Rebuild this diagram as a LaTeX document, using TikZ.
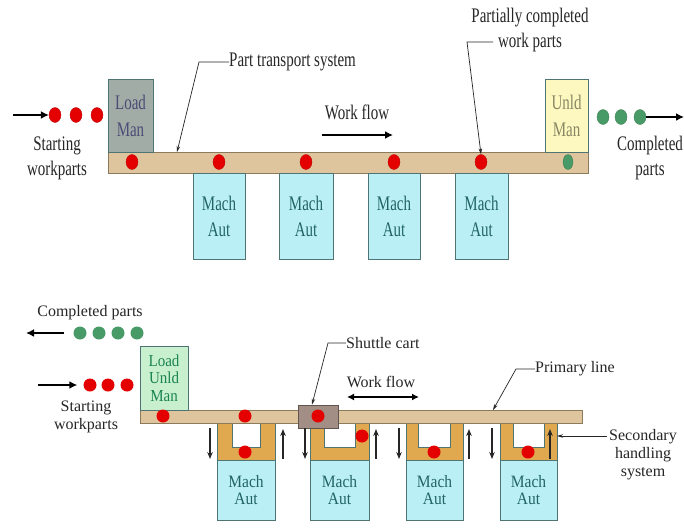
\documentclass[tikz,border=0pt]{standalone}
\usepackage{fontspec}
\setmainfont{Liberation Serif}
\usepackage{graphicx}
\usetikzlibrary{arrows.meta,shapes.geometric}
\definecolor{bartan}{HTML}{DEC59E}
\definecolor{bardraw}{HTML}{8C7A5C}
\definecolor{loadgray}{HTML}{A2ACA7}
\definecolor{unldyel}{HTML}{FCF8BF}
\definecolor{lumgreen}{HTML}{C8F0CE}
\definecolor{machcyan}{HTML}{BAF0F5}
\definecolor{machdraw}{HTML}{4E7474}
\definecolor{machtxt}{HTML}{226466}
\definecolor{secorange}{HTML}{E0A94F}
\definecolor{shuttlec}{HTML}{A28E84}
\definecolor{partred}{HTML}{E40000}
\definecolor{partgreen}{HTML}{489A66}
\definecolor{txt}{HTML}{262626}
\newcommand\vs[1]{\scalebox{1}[1.38]{#1}}
\newcommand\vb[1]{\scalebox{1}[1.12]{#1}}
\tikzset{
  boxbase/.style={draw=machdraw, line width=0.8pt, inner sep=0pt, align=center},
  machtop/.style={boxbase, fill=machcyan, text=machtxt, minimum height=86pt,
    font=\fontsize{15}{26}\selectfont},
  machbot/.style={boxbase, fill=machcyan, text=machtxt, minimum height=60pt,
    font=\fontsize{15.5}{16.5}\selectfont},
  barbox/.style={draw=bardraw, line width=0.8pt, fill=bartan, inner sep=0pt},
  rdot/.style={ellipse, fill=partred, draw=partred!80!black, line width=0.3pt, inner sep=0pt, minimum width=12pt, minimum height=15pt},
  gdot/.style={ellipse, fill=partgreen, draw=partgreen!80!black, line width=0.3pt, inner sep=0pt, minimum width=12pt, minimum height=15pt},
  rdotb/.style={circle, fill=partred, inner sep=0pt, minimum size=13pt},
  gdotb/.style={circle, fill=partgreen, inner sep=0pt, minimum size=13pt},
  ttext/.style={font=\fontsize{15}{25}\selectfont, text=txt, inner sep=0pt, align=center},
  btext/.style={font=\fontsize{16}{18}\selectfont, text=txt, inner sep=0pt, align=center},
  bigarrow/.style={draw=black, line width=2.3pt, -{Latex[length=8pt,width=8pt]}},
  dblarrow/.style={draw=black, line width=1.6pt, {Latex[length=7pt,width=7pt]}-{Latex[length=7pt,width=7pt]}},
  lead/.style={draw=black!85, line width=0.7pt, -{Stealth[length=6pt,width=3.5pt]}},
  varrow/.style={draw=black!85, line width=1.4pt, -{Stealth[length=7pt,width=5.5pt]}},
}
\begin{document}
\begin{tikzpicture}[x=1pt,y=-1pt]
\useasboundingbox (0,0) rectangle (684,527);
\clip (0,0) rectangle (684,527);
\fill[white] (0,0) rectangle (684,527);

% ================= TOP DIAGRAM =================
\node[barbox, minimum width=480pt, minimum height=21pt] (bar1) at (348,162.5) {};
\node[boxbase, fill=loadgray, text=black!60!blue!40!gray, minimum width=45pt, minimum height=73pt,
  font=\fontsize{15}{27}\selectfont] (load1) at (130.5,115.5) {\vs{Load}\\\vs{Man}};
\node[boxbase, fill=unldyel, text=black!55!yellow!60!gray, minimum width=43pt, minimum height=73pt,
  font=\fontsize{15}{27}\selectfont] (unld1) at (566.5,115.5) {\vs{Unld}\\\vs{Man}};
\node[machtop, minimum width=52pt] (mt1) at (219,216) {\vs{Mach}\\\vs{Aut}};
\node[machtop, minimum width=54pt] (mt2) at (306,216) {\vs{Mach}\\\vs{Aut}};
\node[machtop, minimum width=52pt] (mt3) at (394,216) {\vs{Mach}\\\vs{Aut}};
\node[machtop, minimum width=53pt] (mt4) at (481.5,216) {\vs{Mach}\\\vs{Aut}};

% parts on the conveyor
\node[rdot] (tr1) at (132,162) {};
\node[rdot] (tr2) at (219,162) {};
\node[rdot] (tr3) at (306,162) {};
\node[rdot] (tr4) at (394,162) {};
\node[rdot] (tr5) at (481,162) {};
\node[gdot, minimum width=10pt] (tg1) at (568,162) {};

% starting parts
\coordinate (tsa) at (13,115);
\node[rdot] (ts1) at (55,115) {};
\node[rdot] (ts2) at (76,115) {};
\node[rdot] (ts3) at (97,115) {};
\draw[bigarrow] (tsa) -- (ts1.west);
\node[ttext] (tstart) at (57,158) {\vs{Starting}\\\vs{workparts}};

% completed parts
\node[gdot] (tc1) at (603,117) {};
\node[gdot] (tc2) at (621,117) {};
\node[gdot] (tc3) at (640,117) {};
\coordinate (tce) at (684,117);
\draw[bigarrow] (tc3.east) -- (tce);
\node[ttext] (tdone) at (650,158) {\vs{Completed}\\\vs{parts}};

% labels
\node[ttext, anchor=west] (pts) at (229,62) {\vs{Part transport system}};
\coordinate (ptsend) at (177,152);
\draw[lead] (pts.west) -- ++(-30,0) -- (ptsend);

\node[ttext] (wf1) at (357,112) {\vs{Work flow}};
\coordinate (wf1a) at (322,135);
\coordinate (wf1b) at (393,135);
\draw[bigarrow] (wf1a) -- (wf1b);

\node[ttext] (pcw) at (530,30) {\vs{Partially completed}\\\vs{work parts}};
\coordinate (pcs) at (493,42);
\draw[lead] (pcs) -- ++(-26,0) -- (tr5.north);

% ================= BOTTOM DIAGRAM =================
% secondary handling systems
\foreach \i/\xl/\xr/\il/\ir in {1/217/275/232/260, 2/310/369/324/355, 3/406/463/418/450, 4/500/557/513/544}{
  \filldraw[draw=machdraw, line width=0.8pt, fill=secorange] (\xl,423) rectangle (\xr,460);
  \fill[white] (\il,423) rectangle (\ir,447);
  \draw[machdraw, line width=0.8pt] (\il,423) -- (\il,447) -- (\ir,447) -- (\ir,423);
}
\node[barbox, minimum width=442pt, minimum height=13pt] (bar2) at (361,416.5) {};
\node[boxbase, fill=lumgreen, text=machtxt!80!green, minimum width=48pt, minimum height=64pt,
  font=\fontsize{15}{17.5}\selectfont] (lum) at (164,378) {\vb{Load}\\\vb{Unld}\\\vb{Man}};
\node[boxbase, draw=shuttlec!60!black, fill=shuttlec, minimum width=40pt, minimum height=23pt] (shut) at (318,416.5) {};

\node[machbot, minimum width=58pt] (mb1) at (246,490) {\vb{Mach}\\\vb{Aut}};
\node[machbot, minimum width=59pt] (mb2) at (339.5,490) {\vb{Mach}\\\vb{Aut}};
\node[machbot, minimum width=57pt] (mb3) at (434.5,490) {\vb{Mach}\\\vb{Aut}};
\node[machbot, minimum width=57pt] (mb4) at (528.5,490) {\vb{Mach}\\\vb{Aut}};

% parts
\node[rdotb] (br1) at (163,416) {};
\node[rdotb] (br2) at (245,416) {};
\node[rdotb] (br3) at (318,416) {};
\node[rdotb] (br4) at (245,452) {};
\node[rdotb] (br5) at (362,436) {};
\node[rdotb] (br6) at (434,452) {};
\node[rdotb] (br7) at (528,452) {};

% vertical transfer arrows
\foreach \n/\dx/\ux in {1/210/283, 2/305/376, 3/399/469, 4/492/550}{
  \coordinate (dn\n a) at (\dx,428);
  \coordinate (dn\n b) at (\dx,459);
  \coordinate (up\n a) at (\ux,459);
  \coordinate (up\n b) at (\ux,429);
  \draw[varrow] (dn\n a) -- (dn\n b);
  \draw[varrow] (up\n a) -- (up\n b);
}

% completed parts
\node[btext] (bdone) at (90,313) {Completed parts};
\node[gdotb] (bg1) at (80,333) {};
\node[gdotb] (bg2) at (99,333) {};
\node[gdotb] (bg3) at (118,333) {};
\node[gdotb] (bg4) at (137,333) {};
\coordinate (bge) at (26,333);
\draw[bigarrow, line width=1.6pt] ([xshift=-9pt]bg1.west) -- (bge);

% starting parts
\coordinate (bsa) at (38,385);
\node[rdotb] (bs1) at (90,385) {};
\node[rdotb] (bs2) at (108,385) {};
\node[rdotb] (bs3) at (127,385) {};
\draw[bigarrow, line width=1.6pt] (bsa) -- ([xshift=-6pt]bs1.west);
\node[btext] (bstart) at (86,417) {Starting\\workparts};

% labels
\node[btext, anchor=west] (shl) at (346,343) {Shuttle cart};
\draw[lead] (shl.west) -- ++(-18,0) -- ([xshift=-6pt]shut.north);

\node[btext] (wf2) at (381,382) {Work flow};
\coordinate (wf2a) at (347,397);
\coordinate (wf2b) at (419,397);
\draw[dblarrow] (wf2a) -- (wf2b);

\node[btext, anchor=west] (pl) at (535,369) {Primary line};
\coordinate (plend) at (493,410);
\draw[lead] (pl.west) -- ++(-19,0) -- (plend);

\node[btext] (shs) at (643,455) {Secondary\\handling\\system};
\coordinate (shsstart) at (607,436);
\coordinate (shsend) at (557,436);
\draw[lead] (shsstart) -- (shsend);
\end{tikzpicture}
\end{document}
